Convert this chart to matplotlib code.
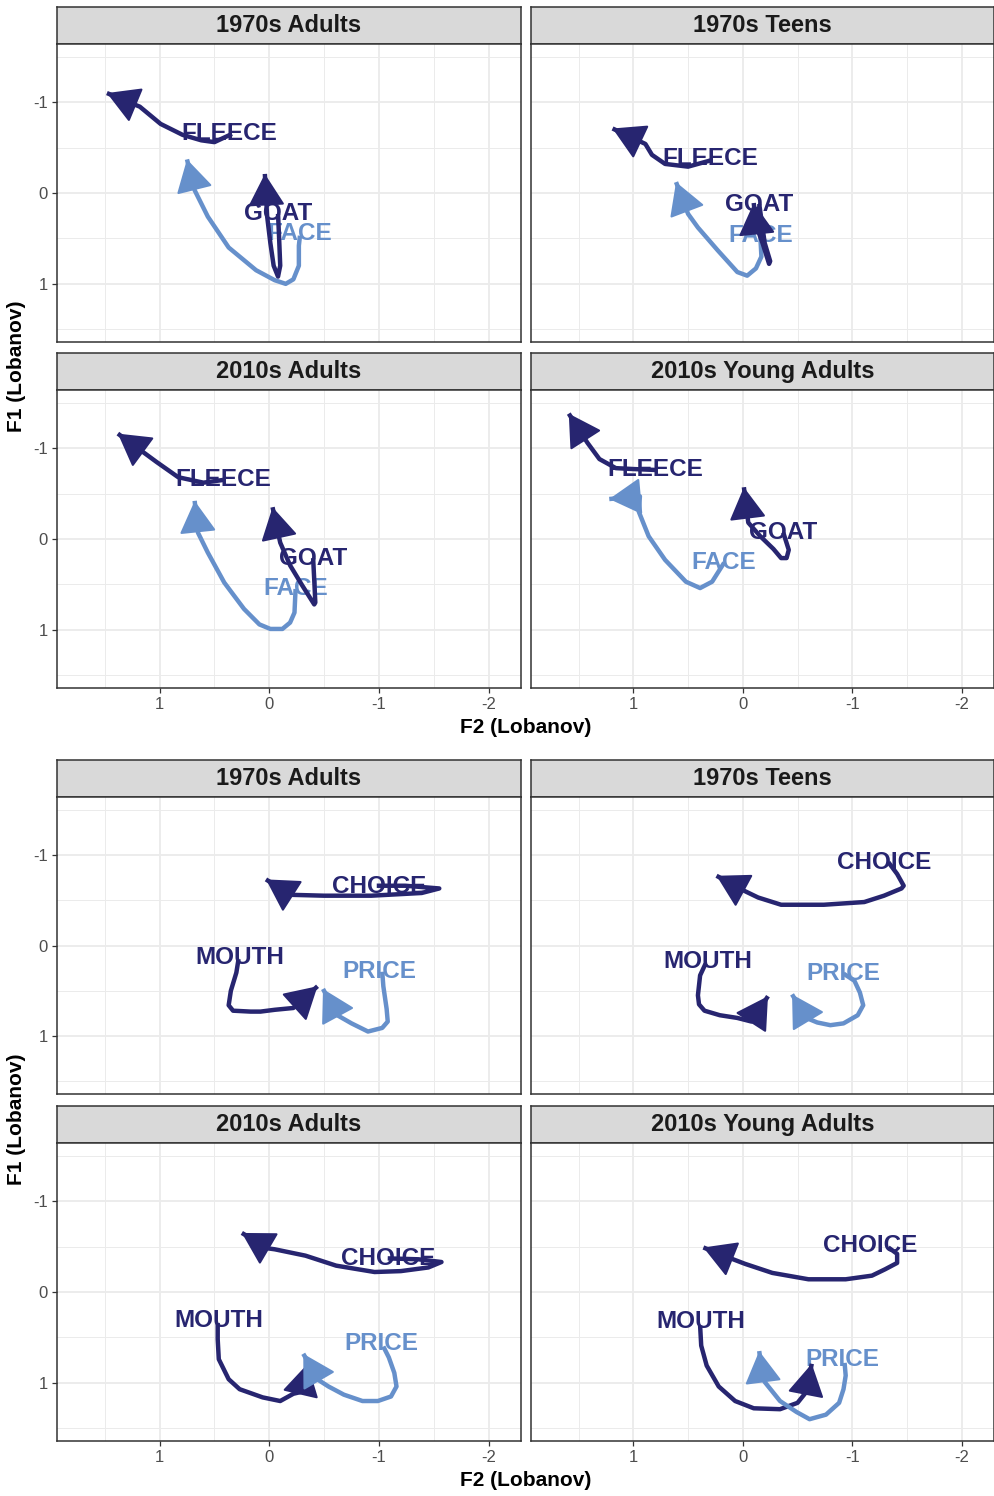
import matplotlib.pyplot as plt

plt.rcParams['font.family'] = ['Liberation Sans', 'DejaVu Sans']

DARK = '#272570'
LIGHT = '#6690CB'

groups = ["1970s Adults", "1970s Teens", "2010s Adults", "2010s Young Adults"]
words_top = ["FACE", "FLEECE", "GOAT"]
words_bot = ["CHOICE", "MOUTH", "PRICE"]
word_colors = {"FACE": LIGHT, "FLEECE": DARK, "GOAT": DARK,
               "CHOICE": DARK, "MOUTH": DARK, "PRICE": LIGHT}

x_ticks = [1, 0, -1, -2]
y_ticks = [-1, 0, 1]

# ---- FLEECE / GOAT / FACE trajectories (F2, F1) ----
a70_top_f2 = {"FLEECE": [0.34, 0.50, 0.62, 0.79, 0.99, 1.18, 1.48],
              "GOAT": [-0.08, -0.09, -0.10, -0.08, -0.04, -0.01, 0.02, 0.04],
              "FACE": [-0.28, -0.27, -0.27, -0.22, -0.15, -0.05, 0.12, 0.37, 0.56, 0.68, 0.75]}
a70_top_f1 = {"FLEECE": [-0.65, -0.56, -0.58, -0.64, -0.76, -0.95, -1.10],
              "GOAT": [0.23, 0.50, 0.80, 0.92, 0.80, 0.55, 0.25, -0.21],
              "FACE": [0.47, 0.58, 0.80, 0.95, 1.00, 0.96, 0.85, 0.60, 0.26, -0.03, -0.37]}
a70_top_lab = {"FLEECE": (0.36, -0.65), "GOAT": (-0.08, 0.23), "FACE": (-0.28, 0.45)}

t70_top_f2 = {"FLEECE": [0.29, 0.50, 0.71, 0.83, 0.89, 1.19],
              "GOAT": [-0.15, -0.20, -0.25, -0.24, -0.18, -0.12, -0.10],
              "FACE": [-0.16, -0.17, -0.12, -0.04, 0.05, 0.23, 0.41, 0.50, 0.61]}
t70_top_f1 = {"FLEECE": [-0.36, -0.29, -0.32, -0.42, -0.54, -0.71],
              "GOAT": [0.12, 0.55, 0.75, 0.78, 0.55, 0.35, 0.11],
              "FACE": [0.47, 0.70, 0.83, 0.91, 0.87, 0.63, 0.38, 0.23, -0.12]}
t70_top_lab = {"FLEECE": (0.30, -0.38), "GOAT": (-0.15, 0.125), "FACE": (-0.16, 0.47)}

a10_top_f2 = {"FLEECE": [0.42, 0.60, 0.83, 1.03, 1.12, 1.38],
              "GOAT": [-0.40, -0.41, -0.42, -0.41, -0.30, -0.19, -0.10, -0.03],
              "FACE": [-0.24, -0.23, -0.19, -0.12, -0.01, 0.09, 0.23, 0.41, 0.56, 0.65, 0.68]}
a10_top_f1 = {"FLEECE": [-0.65, -0.62, -0.68, -0.85, -0.93, -1.16],
              "GOAT": [0.21, 0.45, 0.70, 0.72, 0.51, 0.29, 0.04, -0.35],
              "FACE": [0.55, 0.81, 0.92, 0.99, 0.99, 0.94, 0.77, 0.48, 0.15, -0.07, -0.42]}
a10_top_lab = {"FLEECE": (0.42, -0.65), "GOAT": (-0.40, 0.21), "FACE": (-0.24, 0.55)}

y10_top_f2 = {"FLEECE": [0.80, 1.00, 1.16, 1.31, 1.42, 1.59],
              "GOAT": [-0.37, -0.42, -0.40, -0.35, -0.28, -0.16, -0.05, -0.01],
              "FACE": [0.17, 0.28, 0.39, 0.52, 0.71, 0.86, 0.95, 0.94, 1.22]}
y10_top_f1 = {"FLEECE": [-0.76, -0.77, -0.78, -0.88, -1.06, -1.38],
              "GOAT": [-0.07, 0.12, 0.21, 0.21, 0.11, -0.03, -0.18, -0.57],
              "FACE": [0.26, 0.47, 0.54, 0.47, 0.23, -0.03, -0.30, -0.47, -0.44]}
y10_top_lab = {"FLEECE": (0.80, -0.76), "GOAT": (-0.37, -0.07), "FACE": (0.17, 0.26)}

# ---- CHOICE / MOUTH / PRICE trajectories (F2, F1) ----
a70_bot_f2 = {"CHOICE": [-0.98, -1.24, -1.55, -1.39, -0.93, -0.50, -0.19, 0.03],
              "MOUTH": [0.28, 0.30, 0.35, 0.37, 0.33, 0.17, 0.08, -0.05, -0.22, -0.44],
              "PRICE": [-1.03, -1.04, -1.07, -1.08, -1.03, -0.90, -0.75, -0.62, -0.49]}
a70_bot_f1 = {"CHOICE": [-0.66, -0.66, -0.63, -0.58, -0.55, -0.55, -0.56, -0.73],
              "MOUTH": [0.15, 0.30, 0.50, 0.66, 0.72, 0.73, 0.73, 0.71, 0.69, 0.45],
              "PRICE": [0.29, 0.45, 0.70, 0.84, 0.91, 0.95, 0.86, 0.77, 0.48]}
a70_bot_lab = {"CHOICE": (-1.00, -0.65), "MOUTH": (0.27, 0.13), "PRICE": (-1.00, 0.29)}

t70_bot_f2 = {"CHOICE": [-1.33, -1.41, -1.47, -1.45, -1.29, -1.11, -0.74, -0.35, -0.14, -0.02, 0.24],
              "MOUTH": [0.34, 0.39, 0.41, 0.40, 0.35, 0.21, 0.05, -0.08, -0.23],
              "PRICE": [-0.92, -1.02, -1.07, -1.10, -1.05, -0.92, -0.80, -0.68, -0.58, -0.45]}
t70_bot_f1 = {"CHOICE": [-0.92, -0.79, -0.66, -0.63, -0.55, -0.48, -0.45, -0.45, -0.53, -0.60, -0.77],
              "MOUTH": [0.20, 0.33, 0.55, 0.65, 0.72, 0.77, 0.80, 0.84, 0.56],
              "PRICE": [0.31, 0.39, 0.52, 0.66, 0.77, 0.86, 0.88, 0.85, 0.80, 0.54]}
t70_bot_lab = {"CHOICE": (-1.29, -0.92), "MOUTH": (0.32, 0.18), "PRICE": (-0.92, 0.31)}

a10_bot_f2 = {"CHOICE": [-1.08, -1.36, -1.57, -1.45, -1.20, -0.96, -0.61, -0.33, -0.05, 0.01, 0.25],
              "MOUTH": [0.47, 0.47, 0.46, 0.37, 0.27, 0.06, -0.10, -0.22, -0.29, -0.35],
              "PRICE": [-1.04, -1.09, -1.14, -1.16, -1.11, -0.99, -0.85, -0.68, -0.54, -0.45, -0.31]}
a10_bot_f1 = {"CHOICE": [-0.37, -0.36, -0.33, -0.27, -0.23, -0.22, -0.29, -0.40, -0.47, -0.48, -0.65],
              "MOUTH": [0.34, 0.52, 0.74, 0.96, 1.07, 1.16, 1.20, 1.12, 1.10, 0.79],
              "PRICE": [0.60, 0.72, 0.89, 1.04, 1.15, 1.20, 1.20, 1.13, 1.04, 0.97, 0.68]}
a10_bot_lab = {"CHOICE": (-1.08, -0.37), "MOUTH": (0.46, 0.31), "PRICE": (-1.02, 0.57)}

y10_bot_f2 = {"CHOICE": [-1.33, -1.41, -1.41, -1.30, -1.18, -0.94, -0.60, -0.27, -0.02, 0.11, 0.36],
              "MOUTH": [0.39, 0.38, 0.33, 0.22, 0.07, -0.10, -0.34, -0.50, -0.58, -0.63],
              "PRICE": [-0.93, -0.94, -0.92, -0.88, -0.76, -0.61, -0.49, -0.34, -0.20, -0.18, -0.15]}
y10_bot_f1 = {"CHOICE": [-0.49, -0.42, -0.32, -0.25, -0.18, -0.14, -0.14, -0.21, -0.31, -0.37, -0.49],
              "MOUTH": [0.37, 0.59, 0.81, 1.04, 1.20, 1.28, 1.29, 1.22, 1.10, 0.79],
              "PRICE": [0.78, 0.92, 1.07, 1.22, 1.35, 1.40, 1.32, 1.20, 0.99, 0.93, 0.65]}
y10_bot_lab = {"CHOICE": (-1.16, -0.51), "MOUTH": (0.38, 0.33), "PRICE": (-0.91, 0.74)}

top_panels = [(a70_top_f2, a70_top_f1, a70_top_lab), (t70_top_f2, t70_top_f1, t70_top_lab),
              (a10_top_f2, a10_top_f1, a10_top_lab), (y10_top_f2, y10_top_f1, y10_top_lab)]
bot_panels = [(a70_bot_f2, a70_bot_f1, a70_bot_lab), (t70_bot_f2, t70_bot_f1, t70_bot_lab),
              (a10_bot_f2, a10_bot_f1, a10_bot_lab), (y10_bot_f2, y10_bot_f1, y10_bot_lab)]

W, H = 995, 1496
fig = plt.figure(figsize=(W / 100, H / 100), dpi=100)

cols = [(57, 521), (531, 994)]
rows = [(7, 44, 342), (353, 390, 688), (760, 797, 1094), (1106, 1143, 1441)]


def box(x0, x1, y0, y1):
    return [x0 / W, 1 - y1 / H, (x1 - x0) / W, (y1 - y0) / H]


def draw_panel(r, c, title, f2, f1, lab, words, show_x, show_y):
    x0, x1 = cols[c]
    s0, p0, p1 = rows[r]
    # strip
    st = fig.add_axes(box(x0, x1, s0, p0))
    st.set_facecolor('#D9D9D9')
    st.set_xticks([])
    st.set_yticks([])
    for sp in st.spines.values():
        sp.set_color('#333333')
        sp.set_linewidth(1.1)
    st.text(0.5, 0.5, title, ha='center', va='center', fontsize=17,
            fontweight='bold', color='#1A1A1A', transform=st.transAxes)

    ax = fig.add_axes(box(x0, x1, p0, p1))
    ax.set_xlim(1.935, -2.295)
    ax.set_ylim(1.64, -1.64)
    ax.set_xticks(x_ticks)
    ax.set_xticklabels([str(v) for v in x_ticks])
    ax.set_yticks(y_ticks)
    ax.set_yticklabels([str(v) for v in y_ticks])
    ax.set_xticks([1.5, 0.5, -0.5, -1.5], minor=True)
    ax.set_yticks([-1.5, -0.5, 0.5, 1.5], minor=True)
    ax.grid(which='major', color='#EBEBEB', lw=1.3)
    ax.grid(which='minor', color='#EBEBEB', lw=0.7)
    ax.set_axisbelow(True)
    for sp in ax.spines.values():
        sp.set_color('#333333')
        sp.set_linewidth(1.1)
    ax.tick_params(which='minor', length=0)
    ax.tick_params(which='major', length=3.5, width=0.9, color='#333333',
                   labelsize=12, labelcolor='#4D4D4D', pad=3,
                   bottom=show_x, labelbottom=show_x, left=show_y, labelleft=show_y)

    for w in words:
        lx, ly = lab[w]
        ax.text(lx, ly, w, color=word_colors[w], fontsize=17.5, fontweight='bold',
                ha='center', va='center', zorder=2)
    for i, w in enumerate(words):
        xs, ys = f2[w], f1[w]
        col = word_colors[w]
        ax.plot(xs, ys, color=col, lw=3.2, solid_joinstyle='round',
                solid_capstyle='butt', zorder=3 + i)
        ax.annotate('', xy=(xs[-1], ys[-1]), xytext=(xs[-2], ys[-2]),
                    arrowprops=dict(arrowstyle='-|>,head_length=2.05,head_width=1.18',
                                    mutation_scale=10, color=col, lw=1.5,
                                    shrinkA=0, shrinkB=0, joinstyle='round'),
                    zorder=3 + i)


for k, (f2, f1, lab) in enumerate(top_panels):
    r, c = divmod(k, 2)
    draw_panel(r, c, groups[k], f2, f1, lab, words_top, r == 1, c == 0)
for k, (f2, f1, lab) in enumerate(bot_panels):
    r, c = divmod(k, 2)
    draw_panel(r + 2, c, groups[k], f2, f1, lab, words_bot, r == 1, c == 0)

for yc, yl in [(366, 728), (1119, 1481)]:
    fig.text(526 / W, 1 - yl / H, 'F2 (Lobanov)', ha='center', va='center',
             fontsize=15, fontweight='bold', color='black')
    fig.text(17 / W, 1 - yc / H, 'F1 (Lobanov)', ha='center', va='center',
             rotation=90, fontsize=15, fontweight='bold', color='black')

fig.savefig('out.png', dpi=100, facecolor='white')
